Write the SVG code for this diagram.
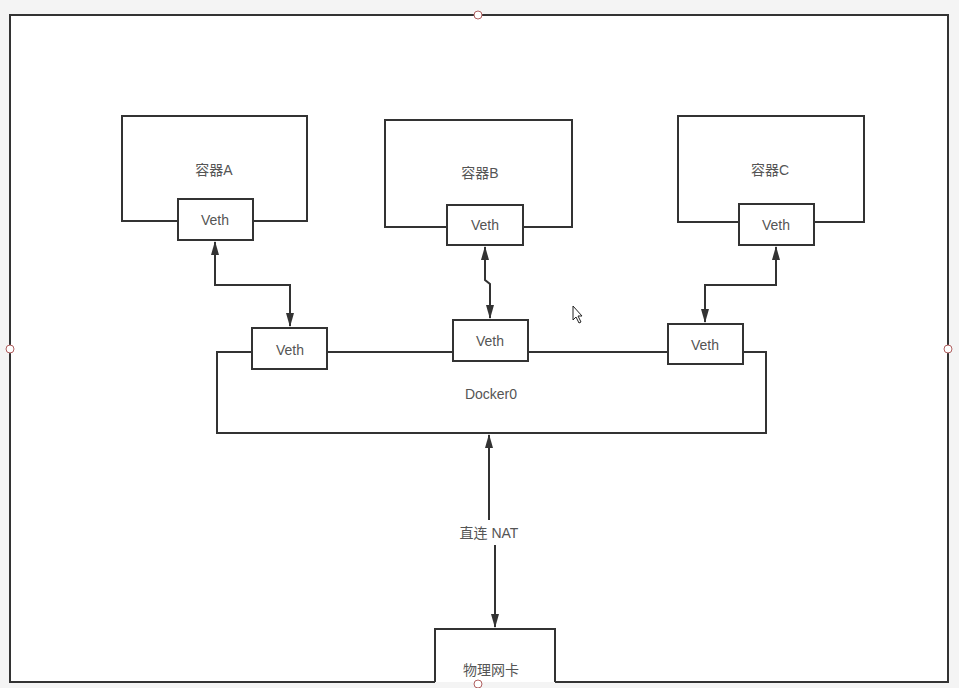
<svg xmlns="http://www.w3.org/2000/svg" width="959" height="688" viewBox="0 0 959 688">
<defs>
<marker id="ah" viewBox="0 0 14 8" refX="13" refY="4" markerWidth="14" markerHeight="8" orient="auto-start-reverse" markerUnits="userSpaceOnUse">
<path d="M0,0 L14,4 L0,8 z" fill="#333"/>
</marker>
<style>
.box{fill:#fff;stroke:#333;stroke-width:2}
.ln{fill:none;stroke:#333;stroke-width:2}
.t{font-family:"Liberation Sans","Noto Sans CJK SC",sans-serif;font-size:14px;fill:#555;text-anchor:middle}
.h{fill:#fff;stroke:#b06060;stroke-width:1}
</style>
</defs>
<rect x="0" y="0" width="959" height="688" fill="#f4f4f4"/>
<rect x="10" y="15" width="938" height="667" fill="#fff"/>
<path d="M435,682 H10 V15 H948 V682 H555" fill="none" stroke="#333" stroke-width="2"/>
<g id="containerA">
<rect class="box" x="122" y="116" width="185" height="105"/>
<text class="t" x="214" y="175">容器A</text>
</g>
<g id="vethA">
<rect class="box" x="178" y="199" width="75" height="41"/>
<text class="t" x="215" y="225">Veth</text>
</g>
<g id="containerB">
<rect class="box" x="385" y="120" width="187" height="107"/>
<text class="t" x="480" y="178">容器B</text>
</g>
<g id="vethB">
<rect class="box" x="447" y="205" width="76" height="40"/>
<text class="t" x="485" y="230">Veth</text>
</g>
<g id="containerC">
<rect class="box" x="678" y="116" width="186" height="106"/>
<text class="t" x="770" y="175">容器C</text>
</g>
<g id="vethC">
<rect class="box" x="739" y="204" width="75" height="41"/>
<text class="t" x="776" y="230">Veth</text>
</g>
<g id="docker0">
<rect class="box" x="217" y="352" width="549" height="81"/>
<text class="t" x="491" y="399">Docker0</text>
</g>
<g id="veth1">
<rect class="box" x="252" y="328" width="75" height="41"/>
<text class="t" x="290" y="355">Veth</text>
</g>
<g id="veth2">
<rect class="box" x="453" y="320" width="75" height="41"/>
<text class="t" x="490" y="346">Veth</text>
</g>
<g id="veth3">
<rect class="box" x="668" y="324" width="75" height="40"/>
<text class="t" x="705" y="350">Veth</text>
</g>
<g id="nic">
<path d="M435,682 V629 H555 V682" fill="none" stroke="#333" stroke-width="2"/>
<text class="t" x="491" y="675">物理网卡</text>
</g>
<g id="connectors">
<path class="ln" d="M215,242 V285 H290 V326" marker-start="url(#ah)" marker-end="url(#ah)"/>
<path class="ln" d="M485,247 V280 L490,284 V318" marker-start="url(#ah)" marker-end="url(#ah)"/>
<path class="ln" d="M776,247 V285 H705 V322" marker-start="url(#ah)" marker-end="url(#ah)"/>
<path class="ln" d="M489,435 V520" marker-start="url(#ah)"/>
<path class="ln" d="M495,545 V627" marker-end="url(#ah)"/>
<text class="t" x="489" y="538">直连 NAT</text>
</g>
<circle class="h" cx="478" cy="15" r="4"/>
<circle class="h" cx="10" cy="349" r="4"/>
<circle class="h" cx="948" cy="349" r="4"/>
<circle class="h" cx="478" cy="684" r="4"/>
<path d="M573,306 V320 L576,317 L579,323 L581,322 L578,316 L582,316 Z" fill="#fff" stroke="#222" stroke-width="1"/>
</svg>
